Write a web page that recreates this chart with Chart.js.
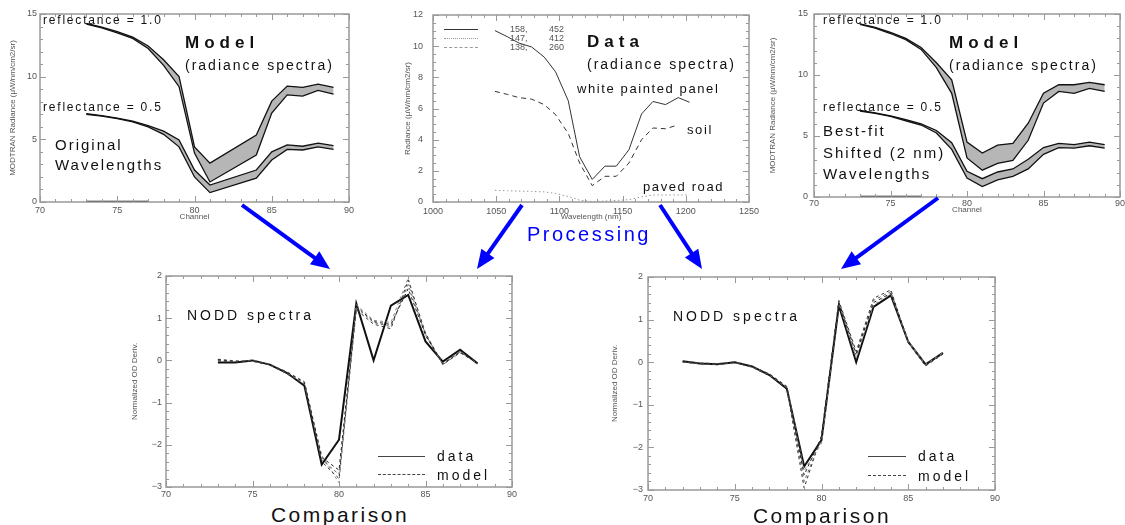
<!DOCTYPE html>
<html>
<head>
<meta charset="utf-8">
<script src="https://cdn.jsdelivr.net/npm/chart.js@4"></script>
<style>
  body { margin: 0; width: 1125px; height: 525px; background: #fff; position: relative; overflow: hidden;
         font-family: 'Liberation Sans', Arial, sans-serif; }
  canvas { position: absolute; }
  .t { position: absolute; white-space: nowrap; transform: translateY(-50%); color: #111; line-height: 1; }
  .refl { font-size: 12px; letter-spacing: 1.8px; }
  .big  { font-size: 17px; font-weight: bold; letter-spacing: 5px; }
  .sub  { font-size: 14px; letter-spacing: 2px; }
  .note { font-size: 15px; letter-spacing: 2px; }
  .lab  { font-size: 13px; letter-spacing: 1.6px; }
  .nodd { font-size: 14px; letter-spacing: 3px; }
  .leg  { font-size: 14px; letter-spacing: 3px; }
  .cmp  { font-size: 21px; letter-spacing: 2.5px; transform: translate(-50%, -50%); }
  .proc { font-size: 20px; letter-spacing: 2.5px; color: #0000ff; }
  .small { font-size: 9px; color: #555; }
  .ln { position: absolute; height: 0; }
  svg { position: absolute; left: 0; top: 0; }
</style>
</head>
<body>
<canvas id="c1" width="361" height="219" style="left:0;top:6px"></canvas>
<canvas id="c2" width="390" height="218" style="left:373px;top:7px"></canvas>
<canvas id="c3" width="360" height="209" style="left:765px;top:6px"></canvas>
<canvas id="c4" width="398" height="233" style="left:126px;top:268px"></canvas>
<canvas id="c5" width="399" height="235" style="left:608px;top:269px"></canvas>
<div id="texts"></div>
<svg id="arrows" width="1125" height="525"></svg>

<script>
// ── Data ───────────────────────────────────────────────────

// top-left: model radiance, original wavelengths (no samples at 82, 83)
const origChannels = [73, 74, 75, 76, 77, 78, 79, 80, 81, 84, 85, 86, 87, 88, 89];
const orig10Hi = [14.25, 13.95, 13.6, 13.15, 12.45, 11.35, 10.0, 4.4, 3.1, 5.35, 8.05, 9.25, 9.15, 9.4, 9.15];
const orig10Lo = [14.2, 13.9, 13.5, 13.05, 12.25, 10.9, 9.2, 3.9, 1.6, 3.75, 7.1, 8.55, 8.45, 8.9, 8.6];
const orig05Hi = [7.05, 6.9, 6.7, 6.45, 6.1, 5.65, 4.95, 2.55, 1.35, 2.55, 4.0, 4.55, 4.45, 4.7, 4.5];
const orig05Lo = [7.0, 6.85, 6.65, 6.4, 6.0, 5.4, 4.4, 2.0, 0.75, 1.9, 3.35, 4.2, 4.15, 4.4, 4.2];

// top-right: model radiance, best-fit shifted wavelengths
const shiftChannels = [73, 74, 75, 76, 77, 78, 79, 80, 81, 82, 83, 84, 85, 86, 87, 88, 89];
const shift10Hi = [14.2, 13.9, 13.5, 13.0, 12.25, 11.0, 9.6, 4.5, 3.6, 4.25, 4.4, 6.05, 8.5, 9.2, 9.2, 9.4, 9.2];
const shift10Lo = [14.15, 13.85, 13.4, 12.9, 12.1, 10.6, 8.5, 3.2, 2.2, 2.75, 3.0, 4.65, 7.7, 8.65, 8.5, 8.9, 8.65];
const shift05Hi = [7.1, 6.9, 6.65, 6.35, 6.0, 5.45, 4.45, 2.1, 1.5, 2.05, 2.3, 3.1, 4.05, 4.4, 4.3, 4.5, 4.3];
const shift05Lo = [7.05, 6.85, 6.6, 6.25, 5.9, 5.25, 3.9, 1.55, 0.85, 1.4, 1.7, 2.3, 3.5, 4.05, 4.0, 4.2, 4.0];

// zero-radiance trace lying on the x axis
const zeroChannels = [73, 74, 75, 76, 77];
const zeroValues = [0, 0, 0, 0, 0];

// top-middle: measured radiance
const wavelengths = [1049, 1059, 1068, 1078, 1088, 1097, 1107, 1116, 1126, 1136, 1145, 1155, 1165, 1174, 1184, 1194, 1203];
const panel = [11.0, 10.6, 10.2, 9.95, 9.3, 8.35, 6.5, 2.9, 1.45, 2.3, 2.3, 3.35, 5.65, 6.45, 6.25, 6.7, 6.4];
const soil  = [7.1, 6.9, 6.7, 6.6, 6.25, 5.6, 4.4, 2.5, 1.05, 1.65, 1.65, 2.5, 4.0, 4.75, 4.7, 4.95, null];
const road  = [0.75, 0.72, 0.7, 0.68, 0.65, 0.55, 0.35, 0.12, 0.03, 0.06, 0.1, 0.15, 0.33, 0.45, 0.45, 0.45, 0.45];
const legendRows = [['158,', '452'], ['147,', '412'], ['138,', '260']];

// bottom-left: NODD, original wavelengths
const noddChannelsL = [73, 74, 75, 76, 77, 78, 79, 80, 81, 82, 83, 84, 85, 86, 87, 88];
const noddDataL = [-0.05, -0.05, 0.0, -0.1, -0.3, -0.6, -2.47, -1.88, 1.35, 0.0, 1.3, 1.55, 0.45, -0.03, 0.25, -0.07];
const noddModelL = [
  [0.02, -0.02, -0.02, -0.1, -0.28, -0.52, -2.3, -2.6, 1.28, 0.92, 0.85, 1.7, 0.6, -0.08, 0.2, -0.07],
  [0.0, -0.03, -0.02, -0.11, -0.3, -0.55, -2.35, -2.7, 1.25, 0.9, 0.8, 1.8, 0.62, -0.1, 0.2, -0.07],
  [-0.01, -0.04, -0.01, -0.1, -0.32, -0.57, -2.4, -2.8, 1.2, 0.86, 0.75, 1.9, 0.65, -0.1, 0.18, -0.06],
  [0.03, -0.01, 0.0, -0.09, -0.27, -0.5, -2.25, -2.9, 1.32, 0.95, 0.9, 1.95, 0.58, -0.06, 0.22, -0.08],
];

// bottom-right: NODD, shifted wavelengths
const noddChannelsR = [72, 73, 74, 75, 76, 77, 78, 79, 80, 81, 82, 83, 84, 85, 86, 87];
const noddDataR = [0.02, -0.03, -0.05, 0.0, -0.1, -0.3, -0.62, -2.45, -1.83, 1.33, 0.0, 1.3, 1.57, 0.48, -0.05, 0.22];
const noddModelR = [
  [0.02, -0.02, -0.04, 0.0, -0.1, -0.28, -0.58, -2.65, -1.75, 1.4, 0.2, 1.4, 1.62, 0.48, -0.06, 0.2],
  [0.01, -0.03, -0.05, -0.01, -0.11, -0.3, -0.6, -2.8, -1.8, 1.42, 0.15, 1.45, 1.66, 0.47, -0.08, 0.21],
  [0.0, -0.04, -0.05, 0.0, -0.12, -0.32, -0.62, -2.95, -1.72, 1.45, 0.25, 1.5, 1.7, 0.45, -0.09, 0.19],
  [0.02, -0.02, -0.03, 0.01, -0.1, -0.27, -0.56, -2.55, -1.9, 1.38, 0.1, 1.35, 1.6, 0.5, -0.05, 0.22],
];

// ── Helpers ────────────────────────────────────────────────

Chart.defaults.font.family = "'Liberation Sans', Arial, sans-serif";
const TICK_FONT = { size: 9 };
const TICK_COLOR = '#555';

const pts = (xs, ys) => xs.map((x, i) => ({ x, y: ys[i] }));
const isMajor = (v, major) => Math.abs(v / major - Math.round(v / major)) < 1e-6;
const fmt = (v, major) => isMajor(v, major) ? String(+v.toFixed(4)).replace('-', '\u2212') : '';

/** Replace the generated ticks with an evenly stepped list (major + minor). */
function stepTicks(min, max, step) {
  return scale => {
    const out = [];
    const n = Math.round((max - min) / step);
    for (let i = 0; i <= n; i++) out.push({ value: +(min + i * step).toFixed(6) });
    scale.ticks = out;
  };
}

const NO_GRID = { display: false, drawTicks: false };

function xAxis(min, max, minor, major, o) {
  return {
    type: 'linear', min, max,
    grid: NO_GRID, border: { display: false },
    afterBuildTicks: stepTicks(min, max, minor),
    afterFit: s => { s.height = o.h; s.paddingLeft = 0; s.paddingRight = 0; },
    ticks: { autoSkip: false, maxRotation: 0, padding: o.pad, color: TICK_COLOR, font: TICK_FONT,
             callback: v => fmt(v, major) },
    title: { display: !!o.title, text: o.title, color: TICK_COLOR, font: { size: 8 },
             padding: { top: 0, bottom: o.tpad || 0 } },
  };
}

function yAxis(min, max, minor, major, o) {
  return {
    type: 'linear', min, max,
    grid: NO_GRID, border: { display: false },
    afterBuildTicks: stepTicks(min, max, minor),
    afterFit: s => { s.width = o.w; s.paddingTop = 0; s.paddingBottom = 0; },
    ticks: { autoSkip: false, padding: o.pad, color: TICK_COLOR, font: TICK_FONT,
             callback: v => fmt(v, major) },
    title: { display: true, text: o.title, color: TICK_COLOR, font: { size: 8 },
             padding: { top: o.tpad, bottom: 0 } },
  };
}

// gray box round the plot with inward ticks on all four sides (IDL style)
const frameTicks = {
  id: 'frameTicks',
  afterDraw(chart) {
    const { ctx, chartArea: a, scales: { x, y } } = chart;
    ctx.save();
    ctx.strokeStyle = '#999';
    ctx.lineWidth = 1.5;
    ctx.strokeRect(a.left, a.top, a.right - a.left, a.bottom - a.top);
    ctx.lineWidth = 1;
    ctx.beginPath();
    x.ticks.forEach(t => {
      const px = Math.round(x.getPixelForValue(t.value)) + 0.5;
      const len = t.label ? 6 : 3;
      ctx.moveTo(px, a.bottom); ctx.lineTo(px, a.bottom - len);
      ctx.moveTo(px, a.top); ctx.lineTo(px, a.top + len);
    });
    y.ticks.forEach(t => {
      const py = Math.round(y.getPixelForValue(t.value)) + 0.5;
      const len = t.label ? 6 : 3;
      ctx.moveTo(a.left, py); ctx.lineTo(a.left + len, py);
      ctx.moveTo(a.right, py); ctx.lineTo(a.right - len, py);
    });
    ctx.stroke();
    ctx.restore();
  },
};

const line = (data, extra) => Object.assign({
  data, borderColor: '#111', borderWidth: 1, pointRadius: 0, tension: 0, fill: false,
}, extra);

/** Two edge curves of a bundle of model spectra, filled between. */
function band(xs, lo, hi) {
  return [
    line(pts(xs, lo), { borderWidth: 1.3 }),
    line(pts(xs, hi), { borderWidth: 1.3, fill: '-1', backgroundColor: 'rgba(110,110,110,0.5)' }),
  ];
}

function makeChart(id, datasets, scales, padRight) {
  return new Chart(document.getElementById(id), {
    type: 'line',
    data: { datasets },
    options: {
      responsive: false, animation: false,
      layout: { padding: { top: 8, right: padRight, bottom: 0, left: 0 } },
      plugins: { legend: { display: false }, tooltip: { enabled: false } },
      scales,
    },
    plugins: [frameTicks],
  });
}

// ── Charts ─────────────────────────────────────────────────

const zeroTrace = () => line(pts(zeroChannels, zeroValues), { borderWidth: 2.5 });

makeChart('c1',
  [...band(origChannels, orig10Lo, orig10Hi), ...band(origChannels, orig05Lo, orig05Hi), zeroTrace()],
  {
    x: xAxis(70, 90, 1, 5, { h: 23, pad: 3, title: 'Channel', tpad: 3 }),
    y: yAxis(0, 15, 1, 5, { w: 40, pad: 3, title: 'MODTRAN Radiance (\u03bcW/nm/cm2/sr)', tpad: 8 }),
  }, 12);

makeChart('c2',
  [
    line(pts(wavelengths, panel), { borderColor: '#333' }),
    line(pts(wavelengths, road), { borderColor: '#999', borderDash: [1.5, 2.5] }),
    line(pts(wavelengths, soil), { borderColor: '#333', borderDash: [5, 4] }),
  ],
  {
    x: xAxis(1000, 1250, 10, 50, { h: 23, pad: 4, title: 'Wavelength (nm)', tpad: 3 }),
    y: yAxis(0, 12, 0.5, 2, { w: 60, pad: 10, title: 'Radiance (\u03bcW/nm/cm2/sr)', tpad: 30 }),
  }, 14);

makeChart('c3',
  [...band(shiftChannels, shift10Lo, shift10Hi), ...band(shiftChannels, shift05Lo, shift05Hi), zeroTrace()],
  {
    x: xAxis(70, 90, 1, 5, { h: 18, pad: 1, title: 'Channel', tpad: 0 }),
    y: yAxis(0, 15, 1, 5, { w: 49, pad: 6, title: 'MODTRAN Radiance (\u03bcW/nm/cm2/sr)', tpad: 3 }),
  }, 5);

const modelColors = ['#222', '#666', '#333', '#888'];
const nodd = (xs, data, models) => [
  ...models.map((m, i) => line(pts(xs, m), { borderColor: modelColors[i], borderDash: [3, 3] })),
  line(pts(xs, data), { borderWidth: 2 }),
];

makeChart('c4', nodd(noddChannelsL, noddDataL, noddModelL), {
  x: xAxis(70, 90, 1, 5, { h: 14, pad: 2 }),
  y: yAxis(-3, 2, 0.2, 1, { w: 40, pad: 4, title: 'Normalized OD Deriv.', tpad: 4 }),
}, 12);

makeChart('c5', nodd(noddChannelsR, noddDataR, noddModelR), {
  x: xAxis(70, 90, 1, 5, { h: 14, pad: 3 }),
  y: yAxis(-3, 2, 0.2, 1, { w: 40, pad: 5, title: 'Normalized OD Deriv.', tpad: 2 }),
}, 12);

// ── Annotations ────────────────────────────────────────────

const texts = [
  ['reflectance = 1.0', 43, 20, 'refl'], ['Model', 185, 42, 'big'], ['(radiance spectra)', 185, 65, 'sub'],
  ['reflectance = 0.5', 43, 107, 'refl'], ['Original', 55, 144, 'note'], ['Wavelengths', 55, 164, 'note'],
  ['Data', 587, 41, 'big'], ['(radiance spectra)', 587, 64, 'sub'], ['white painted panel', 577, 88, 'lab'],
  ['soil', 687, 129, 'lab'], ['paved road', 643, 186, 'lab'],
  ['reflectance = 1.0', 823, 20, 'refl'], ['Model', 949, 42, 'big'], ['(radiance spectra)', 949, 65, 'sub'],
  ['reflectance = 0.5', 823, 107, 'refl'], ['Best-fit', 823, 130, 'note'], ['Shifted (2 nm)', 823, 152, 'note'],
  ['Wavelengths', 823, 173, 'note'],
  ['Processing', 527, 234, 'proc'],
  ['NODD spectra', 187, 315, 'nodd'], ['NODD spectra', 673, 316, 'nodd'],
  ['data', 437, 456, 'leg'], ['model', 437, 475, 'leg'], ['data', 918, 456, 'leg'], ['model', 918, 476, 'leg'],
  ['Comparison', 340, 514, 'cmp'], ['Comparison', 822, 515, 'cmp'],
];
legendRows.forEach((r, i) => {
  texts.push([r[0], 510, 29 + i * 9, 'small'], [r[1], 549, 29 + i * 9, 'small']);
});

const box = document.getElementById('texts');
texts.forEach(([s, x, y, cls]) => {
  const d = document.createElement('div');
  d.className = 't ' + cls;
  d.textContent = s;
  d.style.left = x + 'px';
  d.style.top = y + 'px';
  box.appendChild(d);
});

// legend line samples
const samples = [
  [444, 29, 34, '1px solid #333'], [444, 38, 34, '1px dotted #999'], [444, 47, 34, '1px dashed #999'],
  [378, 456, 47, '1.5px solid #444'], [378, 474, 47, '1.5px dashed #444'],
  [868, 456, 38, '1.5px solid #444'], [868, 475, 38, '1.5px dashed #444'],
];
samples.forEach(([x, y, w, b]) => {
  const d = document.createElement('div');
  d.className = 'ln';
  d.style.cssText += `left:${x}px;top:${y}px;width:${w}px;border-top:${b}`;
  box.appendChild(d);
});

// blue arrows (start -> tip)
const arrows = [[242, 205, 330, 269], [522, 205, 477, 269], [660, 205, 702, 269], [938, 198, 841, 269]];
const svg = document.getElementById('arrows');
let html = '';
arrows.forEach(([x0, y0, x1, y1]) => {
  const len = Math.hypot(x1 - x0, y1 - y0);
  const ux = (x1 - x0) / len, uy = (y1 - y0) / len;
  const head = 19, half = 8;
  const bx = x1 - ux * head, by = y1 - uy * head;
  html += `<line x1="${x0}" y1="${y0}" x2="${bx + ux * 2}" y2="${by + uy * 2}" stroke="#0000ff" stroke-width="4"/>`;
  html += `<polygon fill="#0000ff" points="${x1},${y1} ${bx - uy * half},${by + ux * half} ${bx + uy * half},${by - ux * half}"/>`;
});
svg.innerHTML = html;
</script>
</body>
</html>
